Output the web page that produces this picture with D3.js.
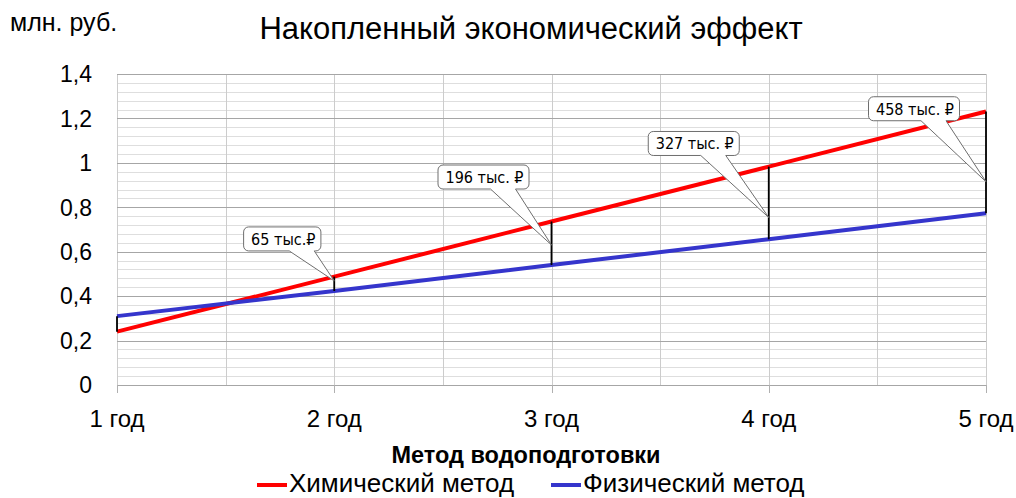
<!DOCTYPE html>
<html>
<head>
<meta charset="utf-8">
<script src="https://cdn.jsdelivr.net/npm/d3@7"></script>
<style>
  html, body { margin: 0; padding: 0; background: #fff; }
  svg { display: block; font-family: "Liberation Sans", Arial, sans-serif; }
</style>
</head>
<body>
<svg id="chart" width="1016" height="498"></svg>
<script>
// Years on the horizontal axis
const years = [1, 2, 3, 4, 5];
const yearLabels = ["1 год", "2 год", "3 год", "4 год", "5 год"];

// Accumulated cost, million roubles
const chemical = [0.240, 0.488, 0.736, 0.983, 1.231];
const physical = [0.310, 0.423, 0.540, 0.656, 0.773];

// Y ticks
const yTicks = [0, 0.2, 0.4, 0.6, 0.8, 1, 1.2, 1.4];
const yTickLabels = ["0", "0,2", "0,4", "0,6", "0,8", "1", "1,2", "1,4"];

// Which years carry a callout with the saving (thousand roubles)
const calloutYears = [2, 3, 4, 5];
const calloutLabels = ["65 тыс.₽", "196 тыс. ₽", "327 тыс. ₽", "458 тыс. ₽"];

const seriesNames = ["Химический метод", "Физический метод"];

// ---- layout ----
const svg = d3.select("#chart");
const x = d3.scaleLinear().domain([1, 5]).range([117, 986]);
const y = d3.scaleLinear().domain([0, 1.4]).range([385, 74]);
const colors = { chem: "#ff0000", phys: "#3535cc" };

// Callout placement: box centre offset from the pointer tip,
// and where the tip sits along the difference segment (0 = top)
const calloutLayout = [
  { dx: -52, dy: -42, t: 0.30 },
  { dx: -68, dy: -68, t: 0.54 },
  { dx: -75, dy: -74, t: 0.70 },
  { dx: -72, dy: -73, t: 0.69 }
];

const g = svg.append("g");

// minor horizontal grid
const minor = d3.range(0, 1.4001, 0.04).filter(v => Math.abs(Math.round(v / 0.2) * 0.2 - v) > 1e-6);
g.append("g").selectAll("line").data(minor).join("line")
  .attr("x1", x(1)).attr("x2", x(5))
  .attr("y1", d => Math.round(y(d)) + 0.5).attr("y2", d => Math.round(y(d)) + 0.5)
  .attr("stroke", "#dedede").attr("stroke-width", 1);

// vertical grid every half year
g.append("g").selectAll("line").data(d3.range(1, 5.001, 0.5)).join("line")
  .attr("x1", d => Math.round(x(d)) + 0.5).attr("x2", d => Math.round(x(d)) + 0.5)
  .attr("y1", y(1.4)).attr("y2", y(0))
  .attr("stroke", "#cccccc").attr("stroke-width", 1);

// major horizontal grid
g.append("g").selectAll("line").data(yTicks).join("line")
  .attr("x1", x(1)).attr("x2", x(5))
  .attr("y1", d => Math.round(y(d)) + 0.5).attr("y2", d => Math.round(y(d)) + 0.5)
  .attr("stroke", "#a6a6a6").attr("stroke-width", 1);

// tick marks under the x axis
g.append("g").selectAll("line").data(years).join("line")
  .attr("x1", d => Math.round(x(d)) + 0.5).attr("x2", d => Math.round(x(d)) + 0.5)
  .attr("y1", y(0)).attr("y2", y(0) + 8)
  .attr("stroke", "#b0b0b0").attr("stroke-width", 1);

// y tick labels
g.append("g").selectAll("text").data(yTicks).join("text")
  .attr("x", 92).attr("y", d => y(d))
  .attr("dy", "0.36em")
  .attr("text-anchor", "end")
  .attr("font-size", 23).attr("fill", "#000")
  .text((d, i) => yTickLabels[i]);

// x tick labels
g.append("g").selectAll("text").data(years).join("text")
  .attr("x", d => x(d)).attr("y", 427)
  .attr("text-anchor", "middle")
  .attr("font-size", 24).attr("fill", "#000")
  .text((d, i) => yearLabels[i]);

// series lines
const line = d3.line().x(d => x(d[0])).y(d => y(d[1]));
g.append("path").datum(years.map((yr, i) => [yr, chemical[i]]))
  .attr("d", line).attr("fill", "none")
  .attr("stroke", colors.chem).attr("stroke-width", 4);
g.append("path").datum(years.map((yr, i) => [yr, physical[i]]))
  .attr("d", line).attr("fill", "none")
  .attr("stroke", colors.phys).attr("stroke-width", 4);

// difference segments
g.append("g").selectAll("line").data(years).join("line")
  .attr("x1", d => x(d)).attr("x2", d => x(d))
  .attr("y1", (d, i) => y(chemical[i])).attr("y2", (d, i) => y(physical[i]))
  .attr("stroke", "#000").attr("stroke-width", 1.8);

// callouts
const cg = g.append("g").attr("font-family", "'DejaVu Sans Condensed', 'DejaVu Sans', Tahoma, sans-serif");
calloutYears.forEach((yr, k) => {
  const i = years.indexOf(yr);
  const L = calloutLayout[k];
  const top = y(chemical[i]), bot = y(physical[i]);
  const tx = x(yr), ty = top + (bot - top) * L.t;
  const cx = tx + L.dx, cy = ty + L.dy;

  const label = cg.append("text")
    .attr("font-size", 16).attr("fill", "#000")
    .attr("text-anchor", "middle")
    .attr("x", cx + 1).attr("y", cy).attr("dy", "0.36em")
    .text(calloutLabels[k]);
  const w = label.node().getComputedTextLength() + 13;
  const h = 24, r = 5;
  const x0 = cx - w / 2, x1 = cx + w / 2, y0 = cy - h / 2, y1 = cy + h / 2;
  const b0 = cx + 7, b1 = Math.min(cx + 32, x1 - r);
  const p = d3.path();
  p.moveTo(x0 + r, y0);
  p.lineTo(x1 - r, y0);
  p.arcTo(x1, y0, x1, y0 + r, r);
  p.lineTo(x1, y1 - r);
  p.arcTo(x1, y1, x1 - r, y1, r);
  p.lineTo(b1, y1);
  p.lineTo(tx, ty);
  p.lineTo(b0, y1);
  p.lineTo(x0 + r, y1);
  p.arcTo(x0, y1, x0, y1 - r, r);
  p.lineTo(x0, y0 + r);
  p.arcTo(x0, y0, x0 + r, y0, r);
  p.closePath();
  cg.insert("path", "text")
    .attr("d", p.toString())
    .attr("fill", "#fff").attr("stroke", "#6e6e6e").attr("stroke-width", 1);
  label.raise();
});

// title and axis captions
svg.append("text").attr("x", 531).attr("y", 39)
  .attr("text-anchor", "middle").attr("font-size", 31).attr("fill", "#000")
  .text("Накопленный экономический эффект");
svg.append("text").attr("x", 10).attr("y", 31)
  .attr("font-size", 25).attr("fill", "#000")
  .text("млн. руб.");
svg.append("text").attr("x", 526).attr("y", 463)
  .attr("text-anchor", "middle").attr("font-size", 23.5).attr("font-weight", "bold").attr("fill", "#000")
  .text("Метод водоподготовки");

// legend
const legend = svg.append("g");
const legendItems = [
  { name: seriesNames[0], color: colors.chem, x: 257 },
  { name: seriesNames[1], color: colors.phys, x: 551 }
];
legendItems.forEach(it => {
  legend.append("line")
    .attr("x1", it.x).attr("x2", it.x + 30)
    .attr("y1", 485).attr("y2", 485)
    .attr("stroke", it.color).attr("stroke-width", 4);
  legend.append("text")
    .attr("x", it.x + 32).attr("y", 492)
    .attr("font-size", 26).attr("fill", "#000")
    .text(it.name);
});
</script>
</body>
</html>
